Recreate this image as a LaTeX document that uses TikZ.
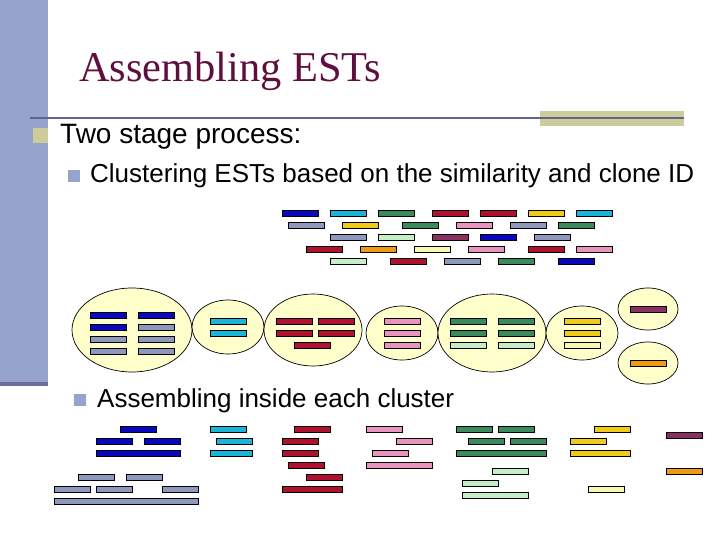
\documentclass[tikz,border=0pt]{standalone}
\usepackage{fontspec}
\setmainfont{Liberation Sans}
\newfontfamily\titlefont{Liberation Serif}
\usetikzlibrary{shapes.geometric}
\definecolor{side}{HTML}{95A3CD}
\definecolor{sidedark}{HTML}{6C6E9C}
\definecolor{rulecol}{HTML}{60648C}
\definecolor{khaki}{HTML}{CCCC99}
\definecolor{titlecol}{HTML}{5E0F3E}
\definecolor{cluster}{HTML}{FFFFCC}
\definecolor{cBlue}{HTML}{0808C0}
\definecolor{cCyan}{HTML}{1CB5DA}
\definecolor{cGreen}{HTML}{3A8A5E}
\definecolor{cRed}{HTML}{B0112F}
\definecolor{cYellow}{HTML}{F0CC1A}
\definecolor{cGrey}{HTML}{8E98BC}
\definecolor{cPink}{HTML}{E994BE}
\definecolor{cPale}{HTML}{C6EEC6}
\definecolor{cPurple}{HTML}{8A3060}
\definecolor{cOrange}{HTML}{EE9A14}
\definecolor{cCream}{HTML}{F8F8B0}
\tikzset{%
  est/.style     = {shape=rectangle, draw=black, line width=1pt, anchor=west,%
                    inner sep=0pt, outer sep=0pt, minimum height=6pt},%
  clump/.style   = {shape=ellipse, draw=black, line width=0.7pt, fill=cluster,%
                    inner sep=0pt, outer sep=0pt},%
  bullet/.style  = {shape=rectangle, inner sep=0pt, outer sep=0pt, anchor=north west},%
  heading/.style = {anchor=base west, inner sep=0pt, font=\fontsize{26}{30}\selectfont}%
}
\begin{document}
\begin{tikzpicture}[x=1pt,y=-1pt]
	\useasboundingbox (0,0) rectangle (720,540);
	\fill[white] (0,0) rectangle (720,540);
	% slide frame
	\fill[side] (0,0) rectangle (48,382);
	\fill[sidedark] (0,382) rectangle (48,386);
	\fill[khaki] (540,111) rectangle (684,126);
	\draw[rulecol,line width=1.3pt] (30,118) -- (684,118);
	% texts
	\node[anchor=base west,inner sep=0pt,text=titlecol,font=\titlefont\fontsize{42.4}{48}\selectfont] (title) at (79,82) {Assembling ESTs};
	\node[bullet,fill=khaki,minimum size=15pt] (b1) at (33,128) {};
	\node[heading,font=\fontsize{28}{32}\selectfont] (stages) at (60,144) {Two stage process:};
	\node[bullet,fill=side,minimum size=12pt] (b2) at (68,170) {};
	\node[heading] (cluster) at (90,183) {Clustering ESTs based on the similarity and clone ID};
	\node[bullet,fill=side,minimum size=12pt] (b3) at (74,394) {};
	\node[heading] (assemble) at (97,407) {Assembling inside each cluster};
	% clusters
	\foreach \cx/\cy/\cw/\ch [count=\i] in {132/330/120/84, 228/327/72/54, 313/330/98/72,
		402/333/72/54, 492/333/108/78, 582/333/72/54, 648/309/60/42, 648/363/60/42}
		\node[clump,minimum width=\cw pt,minimum height=\ch pt] (clump\i) at (\cx,\cy) {};
	% unsorted ESTs
	\foreach \x/\y/\c [count=\i] in {282/213/cBlue, 330/213/cCyan, 378/213/cGreen, 432/213/cRed,
		480/213/cRed, 528/213/cYellow, 576/213/cCyan,
		288/225/cGrey, 342/225/cYellow, 402/225/cGreen, 456/225/cPink, 510/225/cGrey, 558/225/cGreen,
		330/237/cGrey, 378/237/cPale, 432/237/cPurple, 480/237/cBlue, 534/237/cGrey,
		306/249/cRed, 360/249/cOrange, 414/249/cCream, 468/249/cPink, 528/249/cRed, 576/249/cPink,
		330/261/cPale, 390/261/cRed, 444/261/cGrey, 498/261/cGreen, 558/261/cBlue}
		\node[est,fill=\c,minimum width=36pt] (raw\i) at (\x+0.4,\y+0.4) {};
	% ESTs inside the clusters
	\foreach \x/\y/\c [count=\i] in {90/315/cBlue, 138/315/cBlue, 90/327/cBlue, 138/327/cGrey,
		90/339/cGrey, 138/339/cGrey, 90/351/cGrey, 138/351/cGrey,
		210/321/cCyan, 210/333/cCyan,
		276/321/cRed, 318/321/cRed, 276/333/cRed, 318/333/cRed, 294/345/cRed,
		384/321/cPink, 384/333/cPink, 384/345/cPink,
		450/321/cGreen, 498/321/cGreen, 450/333/cGreen, 498/333/cGreen, 450/345/cPale, 498/345/cPale,
		564/321/cYellow, 564/333/cYellow, 564/345/cCream,
		630/309/cPurple, 630/363/cOrange}
		\node[est,fill=\c,minimum width=36pt] (sort\i) at (\x+0.4,\y+0.4) {};
	% assembled contigs
	\foreach \x/\y/\w/\c [count=\i] in {120/429/36/cBlue, 96/441/36/cBlue, 144/441/36/cBlue, 96/453/84/cBlue,
		78/477/36/cGrey, 126/477/36/cGrey, 54/489/36/cGrey, 96/489/36/cGrey, 162/489/36/cGrey, 54/501/144/cGrey,
		210/429/36/cCyan, 216/441/36/cCyan, 210/453/42/cCyan,
		294/429/36/cRed, 282/441/36/cRed, 282/453/36/cRed, 288/465/36/cRed, 306/477/36/cRed, 282/489/60/cRed,
		366/429/36/cPink, 396/441/36/cPink, 372/453/36/cPink, 366/465/66/cPink,
		456/429/36/cGreen, 498/429/36/cGreen, 468/441/36/cGreen, 510/441/36/cGreen, 456/453/90/cGreen,
		492/471/36/cPale, 462/483/36/cPale, 462/495/66/cPale,
		594/429/36/cYellow, 570/441/36/cYellow, 570/453/60/cYellow, 588/489/36/cCream,
		666/435/36/cPurple, 666/471/36/cOrange}
		\node[est,fill=\c,minimum width=\w pt] (asm\i) at (\x+0.4,\y+0.4) {};
\end{tikzpicture}
\end{document}
